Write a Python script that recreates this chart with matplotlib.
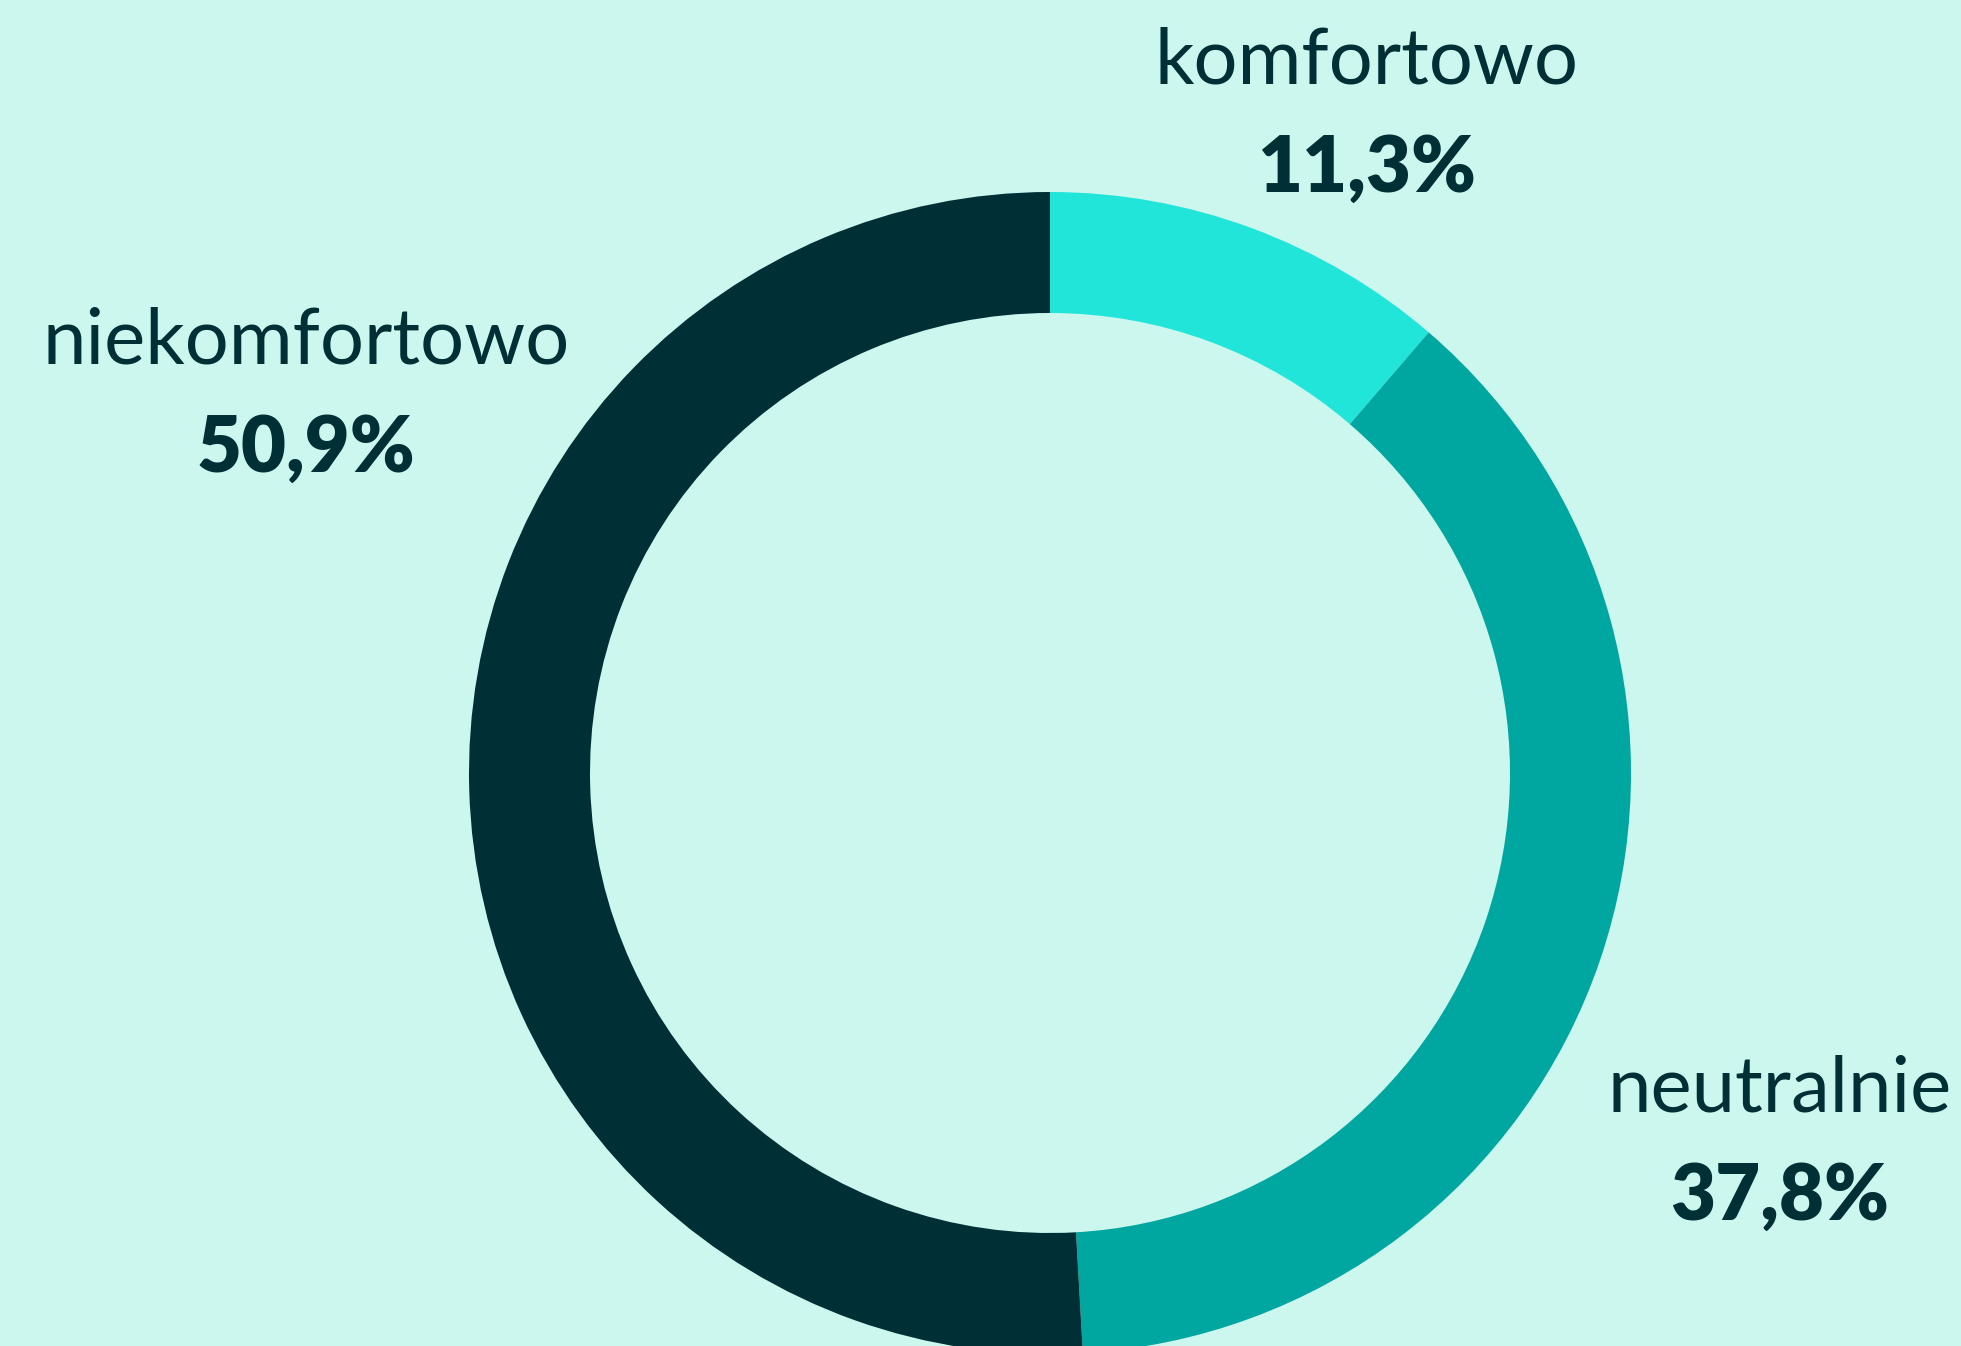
import matplotlib.pyplot as plt

# data
labels = ['komfortowo', 'neutralnie', 'niekomfortowo']
values = [11.3, 37.8, 50.9]
colors = ['#22E5DA', '#00A6A0', '#002F35']

W, H = 1961, 1346
bg = '#CBF7EE'
ink = '#002F35'

fig = plt.figure(figsize=(W / 100, H / 100), dpi=100, facecolor=bg)
ax = fig.add_axes([0, 0, 1, 1])
ax.set_facecolor(bg)

# donut, starting at 12 o'clock, going clockwise
ax.pie(values, colors=colors, startangle=90, counterclock=False,
       center=(1050, H - 773), radius=581,
       wedgeprops=dict(width=121, linewidth=0))

ax.set_xlim(0, W)
ax.set_ylim(0, H)
ax.set_aspect('auto')
ax.axis('off')

# label positions (pixel coords, y from top): centre x, name baseline, value baseline
label_pos = {
    'komfortowo': (1367, 83, 192),
    'neutralnie': (1780, 1112, 1220),
    'niekomfortowo': (306, 363, 472),
}

for lab, val in zip(labels, values):
    x, y1, y2 = label_pos[lab]
    ax.text(x, H - y1, lab, ha='center', va='baseline', fontsize=56,
            family='Lato', color=ink)
    ax.text(x, H - y2, f'{val:.1f}%'.replace('.', ','), ha='center', va='baseline',
            fontsize=56, family='Lato', fontweight='heavy', color=ink)

fig.savefig('out.png', dpi=100, facecolor=bg)
